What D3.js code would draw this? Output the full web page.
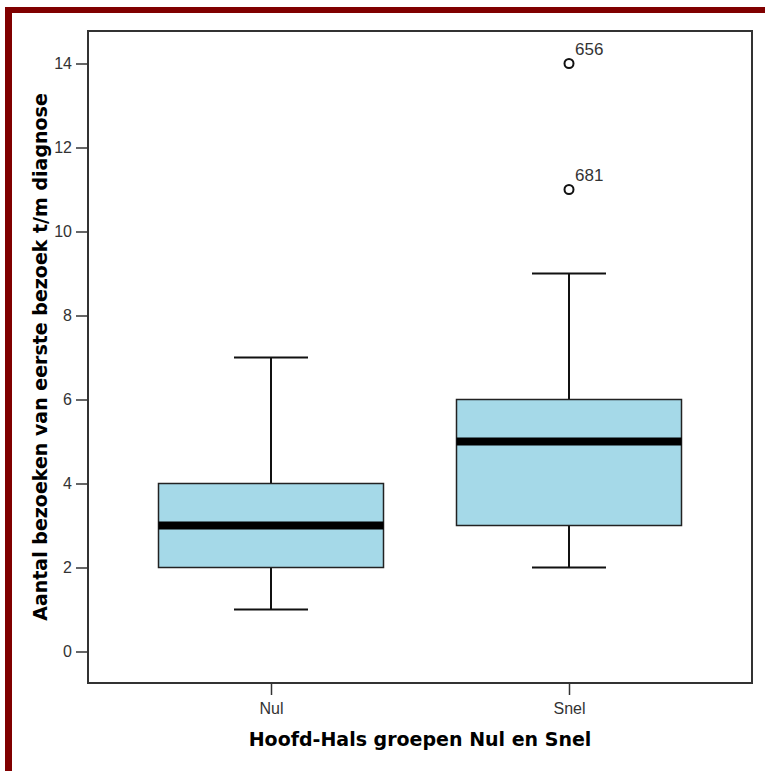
<!DOCTYPE html>
<html><head><meta charset="utf-8">
<script src="https://cdn.jsdelivr.net/npm/d3@7"></script>
<style>body{margin:0;background:#fff}svg{display:block}</style>
</head><body>
<svg id="c" width="765" height="771"></svg>
<script>
const groups = ["Nul", "Snel"];
const whiskerLow = [1, 2];
const q1 = [2, 3];
const median = [3, 5];
const q3 = [4, 6];
const whiskerHigh = [7, 9];
const outlierGroup = ["Snel", "Snel"];
const outlierValue = [14, 11];
const outlierLabel = ["656", "681"];
const yTicks = [0, 2, 4, 6, 8, 10, 12, 14];

const svg = d3.select("#c");
svg.append("rect").attr("x",0).attr("y",0).attr("width",765).attr("height",771).attr("fill","#fff");
svg.append("rect").attr("x",5).attr("y",7).attr("width",760).attr("height",6).attr("fill","#800000");
svg.append("rect").attr("x",5).attr("y",7).attr("width",7).attr("height",764).attr("fill","#800000");

const L=88, T=31, R=752, B=683;
const y = d3.scaleLinear().domain([0,14]).range([651.5,63.5]);
const x = d3.scalePoint().domain(groups).range([271,569]);
const boxW = 225, capW = 74;
const font = "Liberation Sans, Arial, sans-serif";

svg.append("rect").attr("x",L).attr("y",T).attr("width",R-L).attr("height",B-T)
  .attr("fill","#fff").attr("stroke","#333").attr("stroke-width",2);

const yAxis = d3.axisLeft(y).tickValues(yTicks).tickSize(12).tickPadding(4);
const gy = svg.append("g").attr("transform",`translate(${L},0)`).call(yAxis);
gy.select(".domain").remove();
gy.attr("font-size",16).attr("font-family",font);
gy.selectAll("line").attr("stroke","#333").attr("stroke-width",1.5);
gy.selectAll("text").style("font-size","16px").attr("fill","#333");

const xAxis = d3.axisBottom(x).tickSize(12).tickPadding(8);
const gx = svg.append("g").attr("transform",`translate(0,${B})`).call(xAxis);
gx.select(".domain").remove();
gx.attr("font-size",16).attr("font-family",font);
gx.selectAll("line").attr("stroke","#333").attr("stroke-width",1.5);
gx.selectAll("text").style("font-size","16px").attr("fill","#333");

groups.forEach((g,i)=>{
  const cx = x(g);
  const gg = svg.append("g");
  gg.append("line").attr("x1",cx).attr("x2",cx).attr("y1",y(whiskerLow[i])).attr("y2",y(q1[i])).attr("stroke","#111").attr("stroke-width",2);
  gg.append("line").attr("x1",cx).attr("x2",cx).attr("y1",y(q3[i])).attr("y2",y(whiskerHigh[i])).attr("stroke","#111").attr("stroke-width",2);
  gg.append("line").attr("x1",cx-capW/2).attr("x2",cx+capW/2).attr("y1",y(whiskerLow[i])).attr("y2",y(whiskerLow[i])).attr("stroke","#111").attr("stroke-width",2);
  gg.append("line").attr("x1",cx-capW/2).attr("x2",cx+capW/2).attr("y1",y(whiskerHigh[i])).attr("y2",y(whiskerHigh[i])).attr("stroke","#111").attr("stroke-width",2);
  gg.append("rect").attr("x",cx-boxW/2).attr("y",y(q3[i])).attr("width",boxW).attr("height",y(q1[i])-y(q3[i]))
    .attr("fill","#a5d9e8").attr("stroke","#222").attr("stroke-width",1.5);
  gg.append("line").attr("x1",cx-boxW/2).attr("x2",cx+boxW/2).attr("y1",y(median[i])).attr("y2",y(median[i])).attr("stroke","#000").attr("stroke-width",8);
});

outlierValue.forEach((v,i)=>{
  const cx = x(outlierGroup[i]);
  svg.append("circle").attr("cx",cx).attr("cy",y(v)).attr("r",4.5).attr("fill","none").attr("stroke","#111").attr("stroke-width",2);
  svg.append("text").attr("x",cx+6).attr("y",y(v)-9).text(outlierLabel[i])
    .attr("font-family",font).attr("font-size",17).attr("fill","#333");
});

svg.append("text").attr("x",420).attr("y",746).attr("text-anchor","middle")
  .attr("font-family","DejaVu Sans, sans-serif").attr("font-weight","bold").attr("font-size",19).attr("fill","#000")
  .text("Hoofd-Hals groepen Nul en Snel");
svg.append("text").attr("transform",`translate(47,${(T+B)/2}) rotate(-90)`).attr("text-anchor","middle")
  .attr("font-family","DejaVu Sans, sans-serif").attr("font-weight","bold").attr("font-size",19).attr("fill","#000")
  .text("Aantal bezoeken van eerste bezoek t/m diagnose");
</script>
</body></html>
